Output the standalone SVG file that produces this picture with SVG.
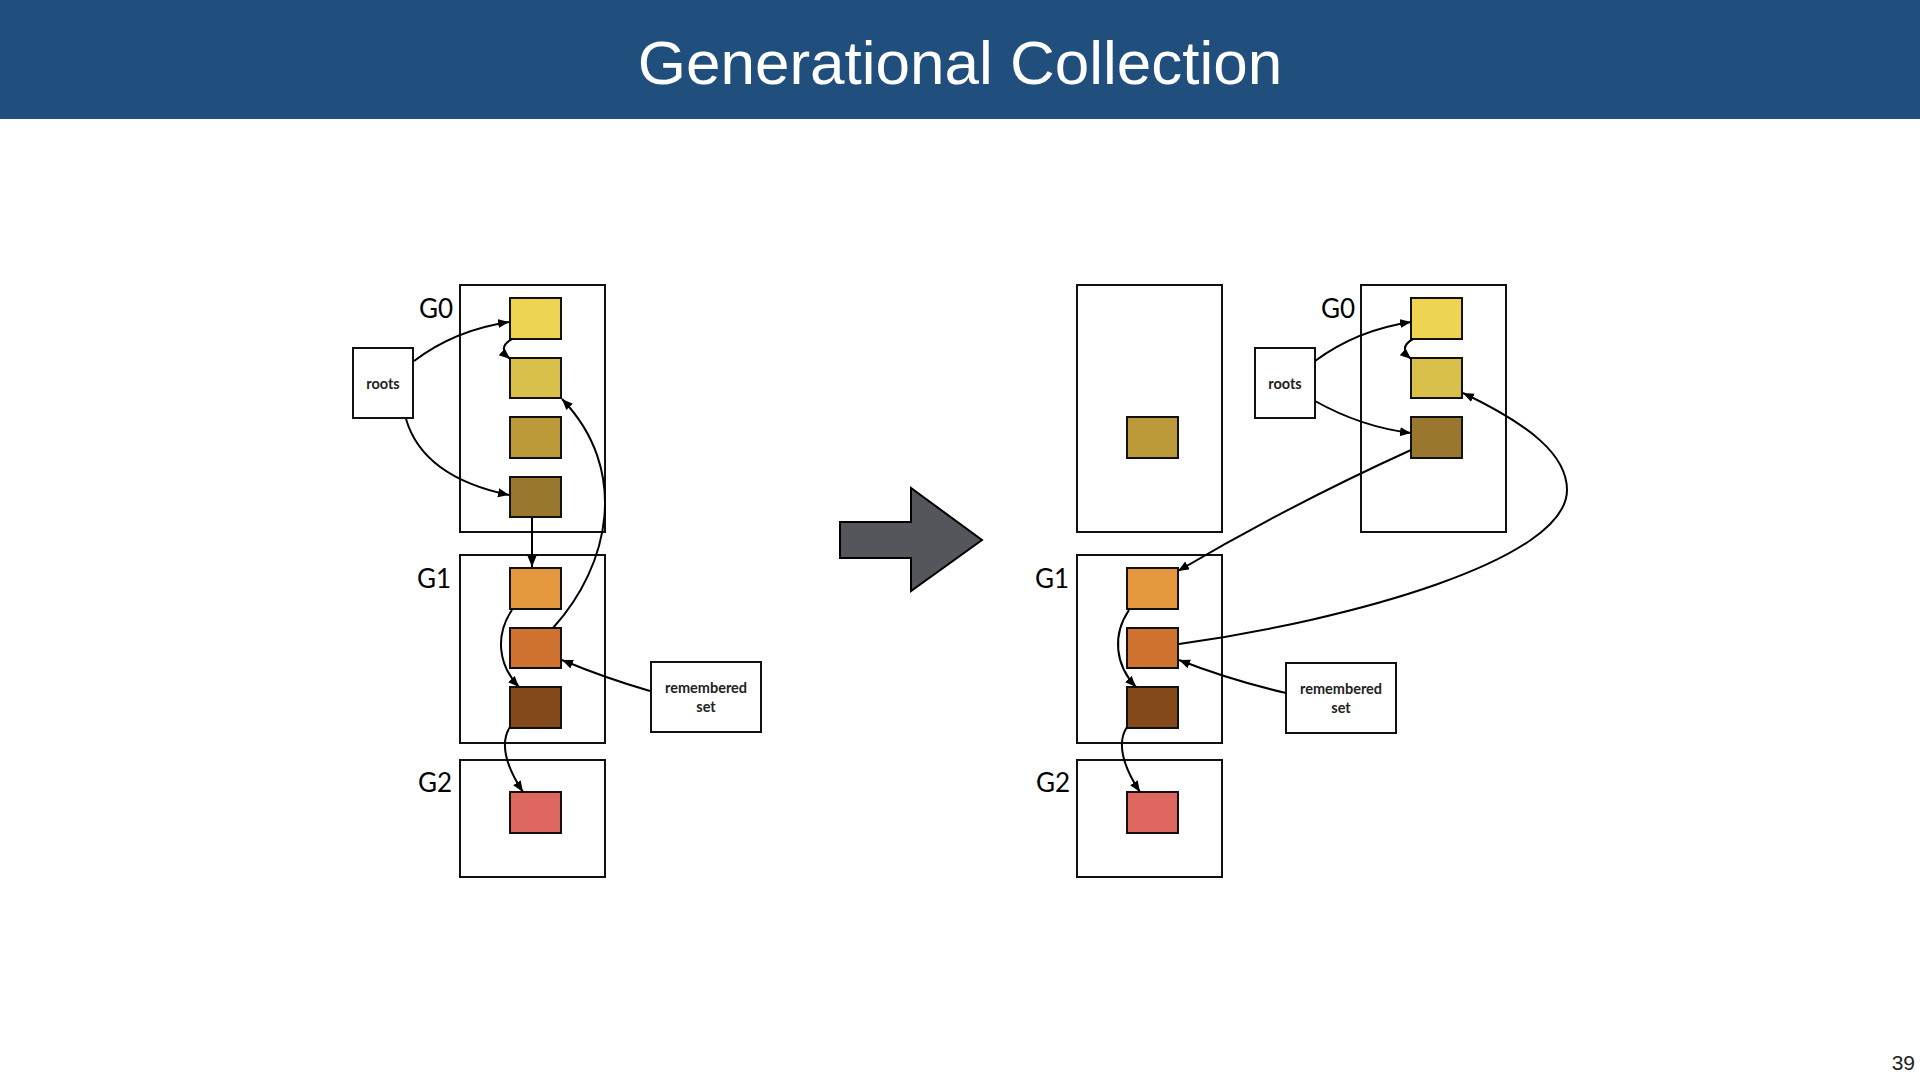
<svg xmlns="http://www.w3.org/2000/svg" width="1920" height="1080" viewBox="0 0 1920 1080">
<style>
.box{fill:#fff;stroke:#111;stroke-width:2}
.obj{stroke:#111;stroke-width:2}
.y1{fill:#EFD352}.y2{fill:#D9C04B}.y3{fill:#BC9A3A}.b0{fill:#9A772E}
.o1{fill:#E6983E}.o2{fill:#CF712F}.b1{fill:#854A1C}.r2{fill:#DD665F}
.gl{font-family:Lato,"DejaVu Sans",sans-serif;font-size:26px;fill:#000}
.lbl{font-family:Lato,"DejaVu Sans",sans-serif;font-size:14.5px;font-weight:700;fill:#222;text-anchor:middle}
.con{fill:none;stroke:#000;stroke-width:2;marker-end:url(#ah)}
</style>
<defs>
<marker id="ah" markerUnits="userSpaceOnUse" markerWidth="12" markerHeight="10" refX="11" refY="4.5" orient="auto">
<path d="M0,0 L11,4.5 L0,9 z" fill="#000"/>
</marker>
</defs>
<rect x="0" y="0" width="1920" height="119" fill="#204E7D"/>
<text x="960" y="84" font-family="'Liberation Sans',Arial,sans-serif" font-size="62" fill="#fff" text-anchor="middle">Generational Collection</text>
<text x="1915" y="1070" font-family="'Liberation Sans',Arial,sans-serif" font-size="21" fill="#222" text-anchor="end">39</text>

<!-- LEFT -->
<g id="L-G0"><rect class="box" x="460" y="285" width="145" height="247"/><text class="gl" x="453" y="318" text-anchor="end">G0</text></g>
<g id="L-G1"><rect class="box" x="460" y="555" width="145" height="188"/><text class="gl" x="451" y="588" text-anchor="end">G1</text></g>
<g id="L-G2"><rect class="box" x="460" y="760" width="145" height="117"/><text class="gl" x="452" y="792" text-anchor="end">G2</text></g>
<g id="L-roots"><rect class="box" x="353" y="348" width="60" height="70"/><text class="lbl" x="383" y="389">roots</text></g>
<g id="L-rs"><rect class="box" x="651" y="662" width="110" height="70"/><text class="lbl" x="706" y="693">remembered</text><text class="lbl" x="706" y="712">set</text></g>
<g id="L-a"><rect class="obj y1" x="510" y="298" width="51" height="41"/></g>
<g id="L-b"><rect class="obj y2" x="510" y="358" width="51" height="40"/></g>
<g id="L-c"><rect class="obj y3" x="510" y="417" width="51" height="41"/></g>
<g id="L-d"><rect class="obj b0" x="510" y="477" width="51" height="40"/></g>
<g id="L-e"><rect class="obj o1" x="510" y="568" width="51" height="41"/></g>
<g id="L-f"><rect class="obj o2" x="510" y="628" width="51" height="40"/></g>
<g id="L-g"><rect class="obj b1" x="510" y="687" width="51" height="41"/></g>
<g id="L-h"><rect class="obj r2" x="510" y="792" width="51" height="41"/></g>

<!-- BIG ARROW -->
<g id="step-arrow"><polygon points="840,522 911,522 911,488 982,540 911,591 911,558 840,558" fill="#54565C" stroke="#000" stroke-width="2"/></g>

<!-- RIGHT -->
<g id="R-old"><rect class="box" x="1077" y="285" width="145" height="247"/></g>
<g id="R-G0"><rect class="box" x="1361" y="285" width="145" height="247"/><text class="gl" x="1355" y="318" text-anchor="end">G0</text></g>
<g id="R-G1"><rect class="box" x="1077" y="555" width="145" height="188"/><text class="gl" x="1069" y="588" text-anchor="end">G1</text></g>
<g id="R-G2"><rect class="box" x="1077" y="760" width="145" height="117"/><text class="gl" x="1070" y="792" text-anchor="end">G2</text></g>
<g id="R-roots"><rect class="box" x="1255" y="348" width="60" height="70"/><text class="lbl" x="1285" y="389">roots</text></g>
<g id="R-rs"><rect class="box" x="1286" y="663" width="110" height="70"/><text class="lbl" x="1341" y="694">remembered</text><text class="lbl" x="1341" y="713">set</text></g>
<g id="R-c"><rect class="obj y3" x="1127" y="417" width="51" height="41"/></g>
<g id="R-a"><rect class="obj y1" x="1411" y="298" width="51" height="41"/></g>
<g id="R-b"><rect class="obj y2" x="1411" y="358" width="51" height="40"/></g>
<g id="R-d"><rect class="obj b0" x="1411" y="417" width="51" height="41"/></g>
<g id="R-e"><rect class="obj o1" x="1127" y="568" width="51" height="41"/></g>
<g id="R-f"><rect class="obj o2" x="1127" y="628" width="51" height="40"/></g>
<g id="R-g"><rect class="obj b1" x="1127" y="687" width="51" height="41"/></g>
<g id="R-h"><rect class="obj r2" x="1127" y="792" width="51" height="41"/></g>

<g id="connectors">
<!-- left -->
<path class="con" d="M414,361 Q455,330 509,322"/>
<path class="con" d="M406,419 Q423,477 509,495"/>
<path class="con" d="M512,339 C501,345 502,352 510,359"/>
<path class="con" d="M532,518 L532,567"/>
<path class="con" d="M553,628 C610,565 630,470 562,399"/>
<path class="con" d="M650,691 Q605,678 562,660"/>
<path class="con" d="M512,610 C495,635 498,665 519,687"/>
<path class="con" d="M510,727 C500,742 505,765 523,792"/>
<!-- right -->
<path class="con" d="M1315,361 Q1357,330 1411,322"/>
<path class="con" d="M1315,401 C1340,415 1370,428 1411,433"/>
<path class="con" d="M1413,339 C1402,345 1403,352 1411,359"/>
<path class="con" d="M1411,450 Q1290,505 1178,571"/>
<path class="con" d="M1179,644 C1350,620 1567,560 1567,490 C1567,455 1530,425 1463,393"/>
<path class="con" d="M1286,693 Q1230,680 1179,660"/>
<path class="con" d="M1129,610 C1112,635 1115,665 1136,687"/>
<path class="con" d="M1127,727 C1117,742 1122,765 1140,792"/>
</g>
</svg>
